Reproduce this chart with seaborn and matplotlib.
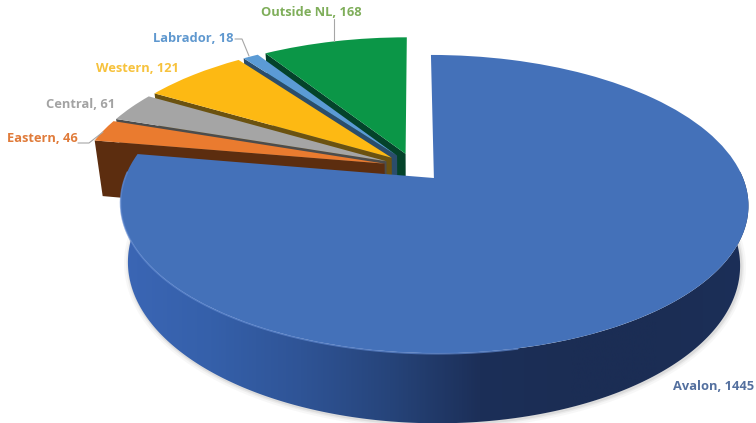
import numpy as np
import matplotlib
matplotlib.use("Agg")
import matplotlib.pyplot as plt
import matplotlib.transforms as mtransforms
from matplotlib.patches import Polygon
import seaborn as sns

regions = ["Avalon", "Eastern", "Central", "Western", "Labrador", "Outside NL"]
counts = [1445, 46, 61, 121, 18, 168]
top_colors = ["#4471b9", "#ea7b2f", "#a5a5a5", "#fdb913", "#5b9bd5", "#0b9647"]
face_colors = ["#1c2f58", "#5c2d0f", "#4c4c4c", "#6b5210", "#2b4d6b", "#04432a"]
label_colors = ["#54709f", "#e07b3a", "#a3a3a3", "#f7c23c", "#5f98cf", "#7fae5a"]
label_xy = [(714, 386), (42, 139), (81, 105), (137, 68), (193, 39), (311, 12)]
side_stops = ["#3b66b5", "#3560aa", "#2f5496", "#26447a", "#1c2f58",
              "#1b2d54", "#1b2d54", "#1c2f58"]

sns.set_theme(style="white")
plt.rcParams["font.family"] = ["Open Sans", "DejaVu Sans"]


class Perspective(mtransforms.Transform):
    """Projects the unit pie plane onto the canvas, receding towards the top."""
    input_dims = 2
    output_dims = 2

    def __init__(self, x0=414, y0=167.1, rx=305, ry=140.8, k=0.1725):
        super().__init__()
        self.x0, self.y0, self.rx, self.ry, self.k = x0, y0, rx, ry, k

    def transform_non_affine(self, values):
        values = np.asarray(values, dtype=float)
        w = 1 + self.k * values[:, 1]
        return np.column_stack([self.x0 + self.rx * values[:, 0] / w,
                                self.y0 - self.ry * values[:, 1] / w])


persp = Perspective()


def floor_of(points):
    """Maps points on the top plane to the same points on the pie's underside."""
    out = np.array(points, dtype=float)
    out[:, 0] = persp.x0 + 0.975 * (out[:, 0] - persp.x0)
    out[:, 1] = persp.y0 + 57.4 + 1.068 * (out[:, 1] - persp.y0)
    return out


def rim(wedge, angles):
    cx, cy = wedge.center
    rad = np.deg2rad(angles)
    return persp.transform(np.column_stack([cx + wedge.r * np.cos(rad),
                                             cy + wedge.r * np.sin(rad)]))


fig = plt.figure(figsize=(7.56, 4.23), dpi=100, facecolor="white")
ax = fig.add_axes([0, 0, 1, 1])

wedges, _ = ax.pie(counts, colors=top_colors, startangle=90, counterclock=False,
                   explode=[0.1] * len(counts), wedgeprops=dict(linewidth=0))

# Slices are painted from the back of the pie to the front; each one shows
# the cut face along its lower radial edge.
for z, i in enumerate(range(len(wedges) - 1, 0, -1)):
    w = wedges[i]
    w.set_transform(persp + ax.transData)
    w.set_zorder(2 * z + 3)
    outer = rim(w, [w.theta2])
    apex = persp.transform(np.array([w.center]))
    top_edge = np.vstack([outer, apex])
    quad = np.vstack([top_edge, floor_of(top_edge)[::-1]])
    ax.add_patch(Polygon(quad, closed=True, facecolor=face_colors[i],
                         edgecolor="none", zorder=2 * z + 2))

# The large slice: outer wall shaded from left to right, then its top face.
main = wedges[0]
main.set_transform(persp + ax.transData)
main.set_zorder(30)
angles = np.linspace(main.theta1, main.theta2, 500)
angles = angles[np.sin(np.deg2rad(angles)) < 0.05]
top_arc = rim(main, angles)
low_arc = floor_of(top_arc)

for width, alpha in [(7, 0.05), (4, 0.08), (2, 0.12)]:
    ax.plot(low_arc[:, 0] + 1, low_arc[:, 1] + 1, color="#707070", lw=width,
            alpha=alpha, zorder=20, solid_capstyle="round")

wall = Polygon(np.vstack([top_arc, low_arc[::-1]]), closed=True, transform=ax.transData,
               facecolor="none", edgecolor="none", zorder=21)
ax.add_patch(wall)
shade = ax.imshow(np.linspace(0, 1, 256)[None, :],
                  extent=(top_arc[:, 0].min(), top_arc[:, 0].max(), 430, 100),
                  cmap=sns.blend_palette(side_stops, as_cmap=True),
                  aspect="auto", zorder=22)
shade.set_clip_path(wall)

# Soft highlight where the top face meets the wall on the lit side.
lit = top_arc[:, 0] < 520
ax.plot(top_arc[lit, 0], top_arc[lit, 1] + 0.5, color="#5f88cf", lw=1.2, alpha=0.7, zorder=31)

# Region labels and their leader lines.
leaders = {"Eastern": ([78, 89, 103], [143, 143, 132]),
           "Labrador": ([235, 242, 249], [39, 39, 56]),
           "Outside NL": ([334, 334], [19, 41])}
for name, value, color, (x, y) in zip(regions, counts, label_colors, label_xy):
    ax.text(x, y, f"{name}, {value}", color=color, fontsize=9.3, fontweight="bold",
            ha="center", va="center", zorder=40)
    if name in leaders:
        ax.plot(*leaders[name], color="#a6a6a6", lw=0.8, zorder=35)

ax.set_aspect("auto")
ax.set_xlim(0, 756)
ax.set_ylim(423, 0)
ax.axis("off")
fig.savefig("out.png", dpi=100)
